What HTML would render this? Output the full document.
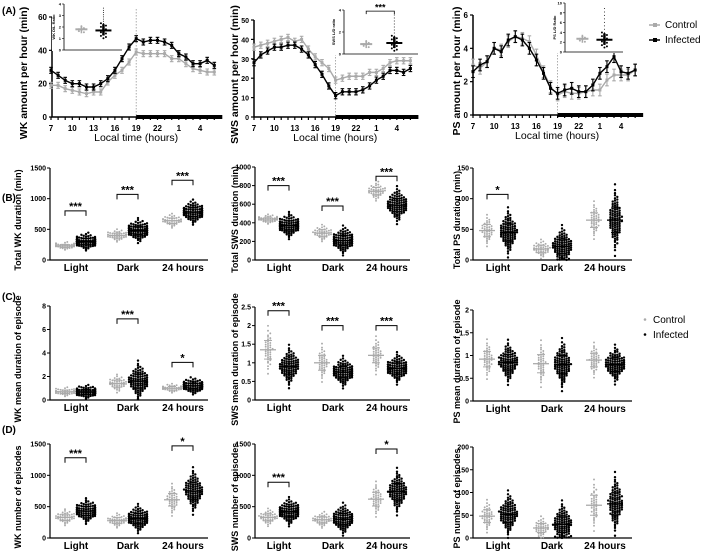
<!DOCTYPE html>
<html><head><meta charset="utf-8"><style>
html,body{margin:0;padding:0;background:#fff}
svg{display:block;font-family:"Liberation Sans",Arial,sans-serif;font-weight:bold}
</style></head><body>
<svg id="fig" width="709" height="553" viewBox="0 0 709 553" xmlns="http://www.w3.org/2000/svg"></svg>
<script>
// ---------- DATA ----------
const hours = ['7','','','10','','','13','','','16','','','19','','','22','','','1','','','4','',''];
const wkControl = [19,19,17,16,15,14,15,15,21,25,28,33,39,38,38,38,38,35,35,32,29,28,27,27];
const wkInfected = [28,25,22,20,20,18,18,20,23,28,35,42,47,45,46,46,45,43,38,36,32,32,34,31];
const swsControl = [36,37,38,39,40,41,39,40,35,31,28,25,19,20,21,21,21,23,23,25,28,29,29,29];
const swsInfected = [28,32,34,36,36,37,37,35,32,27,22,16,11,13,13,13,14,16,19,21,24,24,23,25];
const psControl = [3.0,2.8,3.2,4.0,3.9,4.4,4.7,4.6,4.4,3.6,2.6,1.7,1.2,1.4,1.3,1.3,1.4,1.5,1.5,2.1,2.4,2.4,2.4,2.7];
const psInfected = [2.6,3.0,3.2,4.0,3.8,4.5,4.7,4.5,4.0,3.3,2.5,1.6,1.3,1.5,1.6,1.4,1.4,1.8,2.5,2.9,3.5,2.6,2.5,2.7];
const categories = ['Light','Dark','24 hours'];
const bWkCtrlMean=[230,400,640], bWkCtrlSd=[25,40,45], bWkInfMean=[300,480,780], bWkInfSd=[50,70,70];
const bSwsCtrlMean=[440,290,740], bSwsCtrlSd=[20,35,40], bSwsInfMean=[370,210,590], bSwsInfSd=[50,55,70];
const bPsCtrlMean=[48,18,65], bPsCtrlSd=[10,6,12], bPsInfMean=[45,22,65], bPsInfSd=[14,12,20];
const cWkCtrlMean=[0.7,1.4,1.0], cWkCtrlSd=[0.15,0.3,0.15], cWkInfMean=[0.7,1.6,1.2], cWkInfSd=[0.2,0.6,0.25];
const cSwsCtrlMean=[1.35,1.0,1.2], cSwsCtrlSd=[0.25,0.2,0.2], cSwsInfMean=[0.9,0.75,0.85], cSwsInfSd=[0.2,0.15,0.15];
const cPsCtrlMean=[0.92,0.82,0.9], cPsCtrlSd=[0.17,0.2,0.15], cPsInfMean=[0.85,0.8,0.8], cPsInfSd=[0.17,0.2,0.15];
const dWkCtrlMean=[330,280,610], dWkCtrlSd=[50,45,100], dWkInfMean=[430,310,750], dWkInfSd=[70,80,130];
const dSwsCtrlMean=[330,290,620], dSwsCtrlSd=[55,50,110], dSwsInfMean=[420,300,740], dSwsInfSd=[80,90,130];
const dPsCtrlMean=[48,22,72], dPsCtrlSd=[14,10,22], dPsInfMean=[52,30,75], dPsInfSd=[18,18,24];
const bWkSig=[[0,'***',800],[1,'***',1070],[2,'***',1300]];
const bSwsSig=[[0,'***',800],[1,'***',580],[2,'***',900]];
const bPsSig=[[0,'*',107]];
const cWkSig=[[1,'***',6.9],[2,'*',3.2]];
const cSwsSig=[[0,'***',2.4],[1,'***',2.0],[2,'***',2.0]];
const dWkSig=[[0,'***',1280],[2,'*',1470]];
const dSwsSig=[[0,'***',890],[2,'*',1420]];
const insetWk=[1.8,1.7], insetSws=[0.9,1.0], insetPs=[2.7,2.5];

const S='http://www.w3.org/2000/svg';
const svg=document.getElementById('fig');
const GRAY='#aaaaaa', BLK='#000';
function mk(tag,attrs,parent){const e=document.createElementNS(S,tag);for(const k in attrs)e.setAttribute(k,attrs[k]);(parent||svg).appendChild(e);return e;}
function txt(x,y,s,size,anchor,parent,rot){const t=mk('text',{x:x,y:y,'font-size':size,'text-anchor':anchor||'middle'},parent);if(rot)t.setAttribute('transform','rotate(-90 '+x+' '+y+')');t.textContent=s;return t;}
function invN(p){
 const a=[-39.696830,220.946098,-275.928510,138.357751,-30.664798,2.506628],b=[-54.476098,161.585836,-155.698979,66.801311,-13.280681],c=[-0.007784894,-0.32239645,-2.400758,-2.549732,4.374664,2.938163],d=[0.007784695,0.32246712,2.445134,3.754408];
 let q,r;if(p<0.02425){q=Math.sqrt(-2*Math.log(p));return(((((c[0]*q+c[1])*q+c[2])*q+c[3])*q+c[4])*q+c[5])/((((d[0]*q+d[1])*q+d[2])*q+d[3])*q+1);}
 if(p>1-0.02425){q=Math.sqrt(-2*Math.log(1-p));return-(((((c[0]*q+c[1])*q+c[2])*q+c[3])*q+c[4])*q+c[5])/((((d[0]*q+d[1])*q+d[2])*q+d[3])*q+1);}
 q=p-0.5;r=q*q;return(((((a[0]*r+a[1])*r+a[2])*r+a[3])*r+a[4])*r+a[5])*q/(((((b[0]*r+b[1])*r+b[2])*r+b[3])*r+b[4])*r+1);}

[['(A)',14],['(B)',201],['(C)',300],['(D)',433]].forEach(([s,y])=>{const t=txt(2,y,s,10,'start');});

// ---------- TIME SERIES ----------
function timePanel(cfg){
 const g=mk('g',{});
 const ys=v=>cfg.y0-(v/cfg.max)*(cfg.y0-cfg.yTop);
 const xs=i=>cfg.xs+i*cfg.dx;
 const xEnd=xs(23)+6;
 const vl=mk('line',{x1:xs(12),x2:xs(12),y1:cfg.yTop-8,y2:cfg.y0,stroke:'#999','stroke-width':0.8,'stroke-dasharray':'1.5,1.5'},g);
 const ax=mk('path',{d:`M${cfg.ax},${cfg.yTop} V${cfg.y0} H${xEnd}`,stroke:'#000','stroke-width':1.5,fill:'none'},g);
 
 cfg.ticks.forEach(v=>{mk('line',{x1:cfg.ax-3,x2:cfg.ax,y1:ys(v),y2:ys(v),stroke:'#000','stroke-width':1.2},g);const t=txt(cfg.ax-5,ys(v)+3,String(v),cfg.tf||8,'end',g);});
 hours.forEach((h,i)=>{mk('line',{x1:xs(i),x2:xs(i),y1:cfg.y0,y2:cfg.y0+3,stroke:'#000','stroke-width':1.2},g);if(h){const t=txt(xs(i),cfg.y0+14,h,8,'middle',g);}});
 const dark=mk('rect',{x:xs(12),y:cfg.y0-2,width:xEnd-xs(12)+2,height:4,fill:'#000'},g);
 [[cfg.ctrl,GRAY,'control-line'],[cfg.inf,BLK,'infected-line']].forEach(([arr,col,nm])=>{
  const pl=mk('polyline',{points:arr.map((v,i)=>xs(i)+','+ys(v)).join(' '),fill:'none',stroke:col,'stroke-width':1.4},g);
  
  arr.forEach((v,i)=>{const e=cfg.sem;mk('line',{x1:xs(i),x2:xs(i),y1:ys(v-e),y2:ys(v+e),stroke:col,'stroke-width':1.1},g);mk('line',{x1:xs(i)-1.8,x2:xs(i)+1.8,y1:ys(v+e),y2:ys(v+e),stroke:col,'stroke-width':1.1},g);mk('line',{x1:xs(i)-1.8,x2:xs(i)+1.8,y1:ys(v-e),y2:ys(v-e),stroke:col,'stroke-width':1.1},g);
   const p=mk('rect',{x:xs(i)-1.5,y:ys(v)-1.5,width:3,height:3,fill:col},g);});
 });
 const xt=txt((cfg.ax+xEnd)/2,cfg.y0+24,'Local time (hours)',10.5,'middle',g);xt.setAttribute('font-weight','normal');
 const yt=txt(cfg.yl,(cfg.yTop+cfg.y0)/2+6,cfg.ylabel,10.5,'middle',g,true);
 const I=cfg.inset;const ig=mk('g',{},g);
 mk('rect',{x:I.x0-12,y:I.y0-2,width:I.x1-I.x0+14,height:I.y1-I.y0+3,fill:'#fff'},ig);
 const iy=v=>I.y1-(v/I.max)*(I.y1-I.y0);
 mk('path',{d:`M${I.x0},${I.y0} V${I.y1} H${I.x1}`,stroke:'#000','stroke-width':0.8,fill:'none'},ig);
 I.ticks.forEach(v=>{mk('line',{x1:I.x0-2,x2:I.x0,y1:iy(v),y2:iy(v),stroke:'#000','stroke-width':0.6},ig);txt(I.x0-3,iy(v)+1.5,String(v),4,'end',ig);});
 txt(I.x0-9,(I.y0+I.y1)/2,I.label,4,'middle',ig,true);
 I.vals.forEach((v,k)=>{const cx=I.x0+(I.x1-I.x0)*(k?0.68:0.3);const col=k?BLK:GRAY;const w=k?8:6;
  const m=mk('rect',{x:cx-w,y:iy(v)-1,width:2*w,height:2,fill:col},ig);
  mk('line',{x1:cx,x2:cx,y1:iy(v)-(k?6:4),y2:iy(v)+(k?5:4),stroke:col,'stroke-width':k?2.5:1.5},ig);
  for(let j=0;j<(k?14:6);j++){const yy=iy(v)+(j%2?1:-1)*j*0.6;mk('circle',{cx:cx+((j%3)-1)*2.5,cy:yy,r:1,fill:col},ig);}
  if(k){const top=iy(v)-7;for(let j=0;j<8;j++){const yy=top-j*(top-I.y0-2)/8;mk('circle',{cx:cx,cy:yy,r:0.5,fill:col},ig);}}
 });
 if(I.sig){const x1=I.x0+(I.x1-I.x0)*0.3,x2=I.x0+(I.x1-I.x0)*0.68,y=iy(I.sig);mk('path',{d:`M${x1},${y+3} V${y} H${x2} V${y+3}`,stroke:'#000',fill:'none','stroke-width':0.8},ig);txt((x1+x2)/2,y-0.5,'***',9,'middle',ig);}
}
timePanel({name:'wk-hourly-chart',ax:52,xs:51,dx:7.1,y0:117,yTop:17,max:60,ticks:[0,20,40,60],ctrl:wkControl,inf:wkInfected,sem:1.8,yl:27,ylabel:'WK amount per hour (min)',
 inset:{x0:64,x1:122,y0:4,y1:50,max:4,ticks:[0,1,2,3,4],label:'WK D/L Ratio',vals:insetWk}});
timePanel({name:'sws-hourly-chart',ax:254,xs:254,dx:6.8,y0:117,yTop:20,max:50,ticks:[0,10,20,30,40,50],ctrl:swsControl,inf:swsInfected,sem:1.6,tf:7,yl:238,ylabel:'SWS amount per hour (min)',
 inset:{x0:344,x1:418,y0:10,y1:54,max:4,ticks:[0,2,4],label:'SWS L/D ratio',vals:insetSws,sig:3.9}});
timePanel({name:'ps-hourly-chart',ax:473,xs:473,dx:7.05,y0:115,yTop:15,max:6,ticks:[0,2,4,6],ctrl:psControl,inf:psInfected,sem:0.35,yl:460,ylabel:'PS amount per hour (min)',
 inset:{x0:565,x1:623,y0:3,y1:52,max:10,ticks:[0,2,4,6,8,10],label:'PS L/D Ratio',vals:insetPs}});
[['Control',GRAY,28],['Infected',BLK,43]].forEach(([s,c,y])=>{const g=mk('g',{});
 mk('line',{x1:649,x2:660,y1:y-3,y2:y-3,stroke:c,'stroke-width':1.5},g);mk('rect',{x:653,y:y-5,width:4,height:4,fill:c},g);const t=txt(665,y,s,10,'start',g);t.setAttribute('font-weight','normal');});

// ---------- SCATTER PANELS ----------
function scatterPanel(cfg){
 const g=mk('g',{});
 const ys=v=>cfg.y0-(v/cfg.max)*(cfg.y0-cfg.yTop);
 const ax=mk('path',{d:`M${cfg.ax},${cfg.yTop} V${cfg.y0} H${cfg.xe}`,stroke:'#000','stroke-width':1.2,fill:'none'},g);
 cfg.ticks.forEach(v=>{mk('line',{x1:cfg.ax-3,x2:cfg.ax,y1:ys(v),y2:ys(v),stroke:'#000','stroke-width':1},g);const t=txt(cfg.ax-4,ys(v)+2.5,String(v),7,'end',g);});
 categories.forEach((c,k)=>{const t=txt(cfg.cx[k],cfg.y0+11,c,10,'middle',g);});
 const yt=txt(cfg.yl,(cfg.yTop+cfg.y0)/2+6,cfg.ylabel,9,'middle',g,true);
 [[cfg.cm,cfg.cs,GRAY,40,-11,0.95,'control'],[cfg.im,cfg.is,BLK,90,10,1.2,'infected']].forEach(([means,sds,col,n,off,r,nm])=>{
  means.forEach((m,k)=>{const cx=cfg.cx[k]+off;const sg=mk('g',{},g);
   const bins={};
   for(let i=0;i<n;i++){let v=m+sds[k]*invN((i+0.5)/n)*1.15;if(v<0)v=Math.abs(v)*0.3;const py=ys(v);const b=Math.round(py/2.2);bins[b]=(bins[b]||0)+1;const c=bins[b]-1;const dx=(c%2?1:-1)*Math.ceil(c/2)*2.3;
    mk('circle',{cx:cx+Math.max(-9,Math.min(9,dx)),cy:py,r:r,fill:col},sg);}
   mk('line',{x1:cx-8,x2:cx+8,y1:ys(m),y2:ys(m),stroke:col,'stroke-width':1.3},sg);
   mk('line',{x1:cx,x2:cx,y1:ys(m-sds[k]),y2:ys(m+sds[k]),stroke:col,'stroke-width':1},sg);
   [m-sds[k],m+sds[k]].forEach(v=>mk('line',{x1:cx-4,x2:cx+4,y1:ys(v),y2:ys(v),stroke:col,'stroke-width':1},sg));
  });
 });
 (cfg.sig||[]).forEach(([k,s,v])=>{const x1=cfg.cx[k]-11,x2=cfg.cx[k]+10,y=ys(v);const b=mk('g',{},g);
  mk('path',{d:`M${x1},${y+5} V${y} H${x2} V${y+5}`,stroke:'#000',fill:'none','stroke-width':1},b);txt((x1+x2)/2,y-1,s,11,'middle',b);});
}
const col1={ax:50,xe:208,cx:[76,128,183],yl:21};
const col2={ax:255,xe:410,cx:[279,333,387],yl:238};
const col3={ax:473,xe:632,cx:[498,552,605],yl:460};
function P(base,o){return Object.assign({},base,o);}
scatterPanel(P(col1,{name:'wk-total-duration',y0:260,yTop:168,max:1500,ticks:[0,500,1000,1500],cm:bWkCtrlMean,cs:bWkCtrlSd,im:bWkInfMean,is:bWkInfSd,sig:bWkSig,ylabel:'Total WK duration (min)'}));
scatterPanel(P(col2,{name:'sws-total-duration',y0:260,yTop:167,max:1000,ticks:[0,200,400,600,800,1000],cm:bSwsCtrlMean,cs:bSwsCtrlSd,im:bSwsInfMean,is:bSwsInfSd,sig:bSwsSig,ylabel:'Total SWS duration (min)'}));
scatterPanel(P(col3,{name:'ps-total-duration',y0:260,yTop:168,max:150,ticks:[0,50,100,150],cm:bPsCtrlMean,cs:bPsCtrlSd,im:bPsInfMean,is:bPsInfSd,sig:bPsSig,ylabel:'Total PS duration (min)'}));
scatterPanel(P(col1,{name:'wk-mean-episode-duration',y0:400,yTop:306,max:8,ticks:[0,2,4,6,8],cm:cWkCtrlMean,cs:cWkCtrlSd,im:cWkInfMean,is:cWkInfSd,sig:cWkSig,ylabel:'WK mean duration of episode'}));
scatterPanel(P(col2,{name:'sws-mean-episode-duration',y0:400,yTop:307,max:2.5,ticks:[0,0.5,1,1.5,2,2.5],cm:cSwsCtrlMean,cs:cSwsCtrlSd,im:cSwsInfMean,is:cSwsInfSd,sig:cSwsSig,ylabel:'SWS mean duration of episode'}));
scatterPanel(P(col3,{name:'ps-mean-episode-duration',y0:401,yTop:310,max:2,ticks:[0,0.5,1,1.5,2],cm:cPsCtrlMean,cs:cPsCtrlSd,im:cPsInfMean,is:cPsInfSd,sig:[],ylabel:'PS mean duration of episode'}));
scatterPanel(P(col1,{name:'wk-episode-count',y0:538,yTop:444,max:1500,ticks:[0,500,1000,1500],cm:dWkCtrlMean,cs:dWkCtrlSd,im:dWkInfMean,is:dWkInfSd,sig:dWkSig,ylabel:'WK number of episodes'}));
scatterPanel(P(col2,{name:'sws-episode-count',y0:538,yTop:444,max:1500,ticks:[0,500,1000,1500],cm:dSwsCtrlMean,cs:dSwsCtrlSd,im:dSwsInfMean,is:dSwsInfSd,sig:dSwsSig,ylabel:'SWS number of episodes'}));
scatterPanel(P(col3,{name:'ps-episode-count',y0:538,yTop:447,max:200,ticks:[0,50,100,150,200],cm:dPsCtrlMean,cs:dPsCtrlSd,im:dPsInfMean,is:dPsInfSd,sig:[],ylabel:'PS number of episodes'}));
[['Control',GRAY,323],['Infected',BLK,338]].forEach(([s,c,y])=>{const g=mk('g',{});
 mk('circle',{cx:645,cy:y-3.5,r:1.3,fill:c},g);const t=txt(653,y,s,10,'start',g);t.setAttribute('font-weight','normal');});
</script>
</body></html>
